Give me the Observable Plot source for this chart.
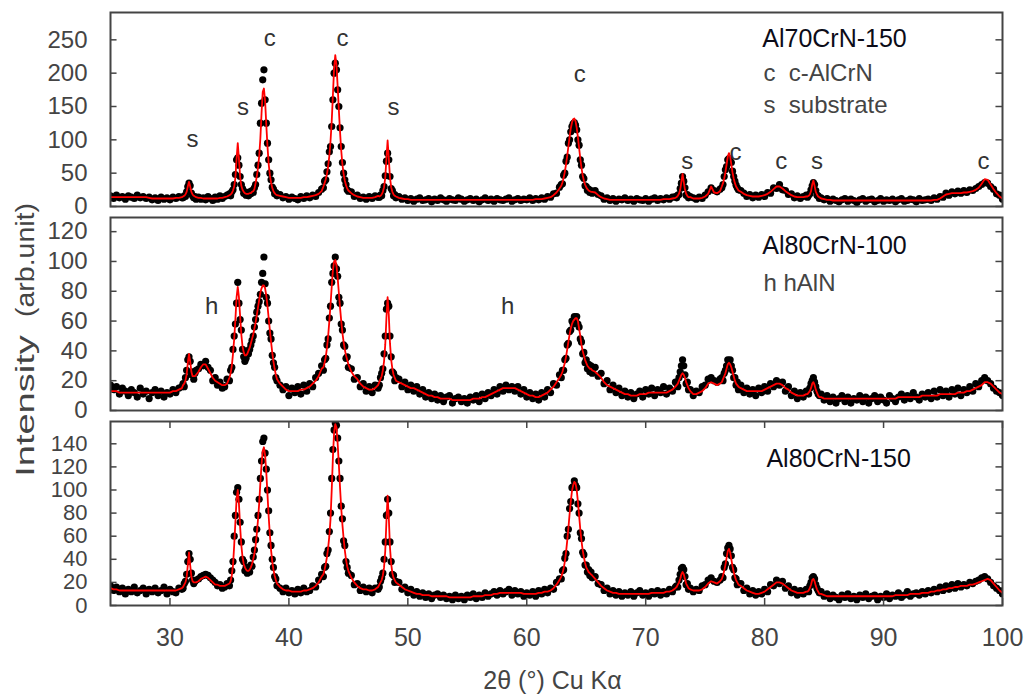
<!DOCTYPE html>
<html><head><meta charset="utf-8">
<script src="https://cdn.jsdelivr.net/npm/d3@7"></script>
<script src="https://cdn.jsdelivr.net/npm/@observablehq/plot@0.6"></script>
<style>
html,body{margin:0;padding:0;background:#fff;}
#wrap{position:relative;width:1024px;height:695px;overflow:hidden;font-family:"Liberation Sans",Arial,sans-serif;}
.panel{position:absolute;left:0;width:1024px;}
.ylab{position:absolute;left:25px;white-space:nowrap;font-size:25px;line-height:25px;color:#444;}
</style></head><body><div id="wrap">
<div class="ylab" style="top:406px;transform:translate(-50%,-50%) rotate(-90deg) scaleX(1.52);">Intensity</div>
<div class="ylab" style="top:260px;transform:translate(-50%,-50%) rotate(-90deg) scaleX(1.14);">(arb.unit)</div>
</div>
<script>
// 2θ positions (degrees) of the sampled points, shared by the three patterns
const twoTheta = [
25,25.25,25.5,25.75,26,26.25,26.5,26.75,27,27.25,27.5,27.75,28,28.25,28.5,28.75,29,29.25,29.5,29.75,30,30.25,30.5,30.75,31,
31.1,31.2,31.3,31.4,31.5,31.6,31.7,31.8,31.9,32,32.1,32.2,
32.4,32.6,32.8,33,33.2,33.4,33.6,33.8,34,34.2,34.4,34.6,34.8,
35,35.1,35.2,35.3,35.4,35.5,35.6,35.7,35.8,35.9,36,36.1,36.2,36.3,36.4,36.5,36.6,36.7,36.8,36.9,37,37.1,37.2,37.3,37.4,37.5,37.6,37.7,37.8,37.9,38,38.1,38.2,38.3,38.4,38.5,38.6,38.7,38.8,38.9,39,
39.25,39.5,39.75,40,40.25,40.5,40.75,41,41.25,41.5,41.75,42,42.25,42.5,42.75,
42.9,43,43.1,43.2,43.3,43.4,43.5,43.6,43.7,43.8,43.9,44,44.1,44.2,44.3,44.4,44.5,44.6,44.7,44.8,44.9,45,
45.25,45.5,45.75,46,46.25,46.5,46.75,47,47.25,47.5,
47.6,47.7,47.8,47.9,48,48.1,48.2,48.3,48.4,48.5,48.6,48.7,48.8,48.9,49,
49.25,49.5,49.75,50,50.25,50.5,50.75,51,51.25,51.5,51.75,52,52.25,52.5,52.75,53,53.25,53.5,53.75,54,54.25,54.5,54.75,55,55.25,55.5,55.75,56,56.25,56.5,56.75,57,57.25,57.5,57.75,58,58.25,58.5,58.75,59,59.25,59.5,59.75,60,60.25,60.5,60.75,61,61.25,61.5,61.75,62,62.25,62.5,62.75,
62.9,63,63.1,63.2,63.3,63.4,63.5,63.6,63.7,63.8,63.9,64,64.1,64.2,64.3,64.4,64.5,64.6,64.7,64.8,64.9,65,65.1,65.2,65.3,65.4,65.5,
65.75,66,66.25,66.5,66.75,67,67.25,67.5,67.75,68,68.25,68.5,68.75,69,69.25,69.5,69.75,70,70.25,70.5,70.75,71,71.25,71.5,71.75,72,72.25,72.5,
72.6,72.7,72.8,72.9,73,73.1,73.2,73.3,73.4,73.5,73.6,
73.75,74,74.25,74.5,74.75,75,75.25,75.5,75.75,76,76.25,
76.4,76.5,76.6,76.7,76.8,76.9,77,77.1,77.2,77.3,77.4,77.5,77.6,77.7,77.8,
78,78.25,78.5,78.75,79,79.25,79.5,79.75,80,80.25,80.5,80.75,81,81.25,81.5,81.75,82,82.25,82.5,82.75,83,83.25,83.5,
83.6,83.7,83.8,83.9,84,84.1,84.2,84.3,84.4,84.5,84.6,
84.75,85,85.25,85.5,85.75,86,86.25,86.5,86.75,87,87.25,87.5,87.75,88,88.25,88.5,88.75,89,89.25,89.5,89.75,90,90.25,90.5,90.75,91,91.25,91.5,91.75,92,92.25,92.5,92.75,93,93.25,93.5,93.75,94,94.25,94.5,94.75,95,95.25,95.5,95.75,96,96.25,96.5,96.75,97,97.25,97.5,97.75,98,98.25,98.5,98.75,99,99.25,99.5,99.75,100
];

// Al70CrN-150 : fitted profile (red) and measured intensity (black dots)
const fit70_150 = [
14,14,14,14,14,14,14,14,14,14,14,14,14,13,12,12,12,12,12,12,12,12,13,13,14,
15,16,18,22,30,37,30,22,18,16,15,14,
13,13,12,12,12,12,12,12,12,13,13,14,15,
17,18,20,24,30,43,71,95,71,44,31,25,22,20,19,19,19,20,20,22,23,26,35,45,58,75,102,140,172,177,158,122,90,64,47,36,28,23,20,18,17,
16,15,14,13,13,13,13,13,14,14,15,16,17,19,23,
30,35,41,49,60,76,98,128,167,207,227,212,180,145,112,84,63,49,39,32,27,24,
20,17,15,14,13,13,13,13,14,16,
15,16,18,22,29,43,72,99,72,43,29,22,18,16,15,
13,12,11,11,10,10,10,10,10,10,10,10,10,10,10,10,10,10,10,10,10,10,10,10,10,10,10,10,10,10,10,10,10,10,10,10,10,10,10,10,10,10,10,10,10,10,11,11,11,12,13,14,17,21,27,
31,36,43,52,63,76,90,104,117,126,131,132,128,118,104,88,72,58,47,39,33,29,26,24,23,22,22,
21,17,14,12,11,10,10,10,10,10,10,10,10,10,10,10,10,10,10,10,10,10,10,11,11,11,12,13,
14,16,19,25,37,49,37,25,19,16,14,
14,12,12,12,13,15,19,30,21,20,23,
30,35,42,51,63,75,80,75,63,51,42,35,30,27,24,
22,19,17,16,15,15,15,16,17,19,22,26,30,30,27,23,20,17,15,14,14,14,15,
15,16,18,23,33,39,31,22,18,15,14,
12,11,10,10,9,9,9,9,9,9,9,9,9,9,9,9,9,9,9,9,9,9,9,9,9,9,9,9,9,9,9,9,9,9,9,9,9,9,10,10,12,15,18,19,20,20,20,20,21,21,22,23,25,28,34,41,40,33,26,20,15,12
];
const obs70_150 = [
16,12,17,13,15,11,16,14,12,17,13,15,12,14,10,13,9,14,11,13,10,14,12,15,13,
13,16,15,22,30,35,31,20,16,13,15,11,
14,11,13,10,15,12,9,14,11,16,12,15,17,
19,16,22,25,33,48,70,73,62,45,33,27,20,22,17,21,16,22,19,24,21,28,33,48,62,80,125,155,190,205,160,125,95,70,50,40,29,26,19,21,16,
18,13,15,11,14,12,10,15,12,16,13,17,15,21,26,
28,38,40,52,64,82,90,120,160,200,215,205,175,150,118,90,66,50,40,33,25,23,
22,15,17,12,14,11,15,12,16,14,
14,17,16,24,30,46,68,80,70,45,27,24,16,18,13,
15,11,13,9,12,8,11,13,9,10,12,7,11,9,13,10,8,12,10,9,13,11,8,10,12,9,11,7,10,13,9,11,8,12,10,9,11,13,8,10,12,9,11,10,13,9,12,10,13,11,15,14,19,20,29,
33,34,47,50,68,74,95,100,112,120,124,126,122,115,100,92,70,62,45,42,31,30,24,26,21,24,20,
24,18,16,11,13,9,12,8,11,10,13,9,11,8,12,10,9,12,8,11,13,9,12,10,13,11,14,15,
13,17,18,27,35,45,38,28,17,18,13,
15,13,11,14,12,17,22,28,24,22,26,
28,33,45,55,60,70,72,68,66,53,45,38,32,28,25,
24,20,15,18,13,17,14,18,15,21,20,28,27,33,25,24,18,19,13,16,12,15,17,
14,17,19,25,31,36,33,24,17,16,12,
13,10,12,8,11,9,7,10,12,8,11,9,6,10,12,8,10,11,7,9,12,8,10,9,11,7,10,12,8,9,11,10,7,12,9,10,11,9,13,11,15,14,20,17,22,19,23,20,24,21,25,24,27,30,33,36,35,30,26,19,17,11
];

// Al80CrN-100
const fit80_100 = [
13,13,13,12,12,12,12,12,12,12,12,12,12,12,12,12,12,12,12,12,12,13,13,14,15,
17,18,20,24,32,38,33,26,23,23,23,24,
26,29,31,31,28,25,22,20,19,18,17,17,18,
22,25,30,38,48,61,76,83,76,63,51,43,39,37,37,38,40,42,45,48,51,55,59,64,69,74,79,82,84,84,82,77,70,62,54,46,39,33,28,24,21,
18,16,14,13,13,13,13,14,14,15,16,18,20,23,28,
29,32,36,42,50,60,71,83,94,100,101,97,89,79,69,60,52,46,41,37,34,31,
26,23,21,18,16,15,14,14,15,17,
19,21,23,27,33,44,62,76,64,45,34,28,24,22,20,
19,18,17,16,15,15,14,13,12,11,10,10,9,9,8,8,8,8,7,7,7,7,7,7,7,8,8,8,9,9,10,11,12,13,14,15,15,15,15,15,14,13,12,11,10,10,9,9,10,11,12,14,16,19,22,
24,26,29,32,36,41,46,51,55,58,60,61,62,62,60,55,50,44,40,37,34,32,30,29,28,28,27,
26,24,22,19,17,16,15,14,13,12,11,11,10,10,10,11,11,11,12,12,12,12,12,12,12,13,14,16,
17,18,20,22,24,25,24,22,19,17,15,
13,11,11,12,13,15,18,19,18,17,18,
19,21,23,25,28,31,32,31,29,26,23,20,18,17,16,
15,14,13,13,13,13,13,13,14,15,16,17,18,18,17,15,14,12,11,10,10,10,11,
11,12,13,15,18,19,17,14,12,10,9,
9,8,8,8,8,8,8,8,8,8,8,8,8,8,8,8,8,8,8,8,8,8,8,8,8,8,9,9,9,9,9,9,9,9,10,10,10,10,10,10,11,11,11,11,11,11,12,12,12,13,13,14,15,16,17,19,19,18,16,14,12,11
];
const obs80_100 = [
17,14,16,11,15,13,10,14,12,9,15,11,13,8,12,14,10,13,9,12,11,14,12,15,16,
18,16,22,27,34,36,33,24,26,21,25,27,
28,31,30,33,29,27,20,22,17,19,15,16,21,
20,27,29,41,50,58,72,86,72,61,54,41,36,33,35,40,38,41,44,47,50,56,61,66,70,73,78,86,92,103,85,76,72,60,52,48,37,32,29,22,20,
17,14,16,10,15,12,16,11,17,13,18,16,22,25,30,
27,34,35,44,48,62,70,86,92,97,103,95,90,76,72,58,54,44,43,35,36,29,
28,21,22,16,18,13,16,12,17,15,
17,22,25,28,38,50,68,72,70,50,36,26,25,20,22,
21,16,19,14,17,13,16,11,14,9,12,8,11,7,10,6,9,10,5,8,9,6,8,5,9,7,10,6,11,8,12,10,14,11,16,13,17,14,16,13,16,11,14,9,12,8,11,7,12,9,14,12,18,17,24,
22,27,27,34,35,44,45,53,54,60,58,63,60,63,58,56,48,46,38,39,32,34,28,31,26,30,25,
29,23,25,18,20,14,17,12,15,10,13,9,12,8,11,13,9,14,11,15,10,14,12,16,11,15,13,19,
19,16,22,26,30,34,30,24,18,19,14,
14,10,13,12,16,17,21,22,20,19,21,
22,20,25,27,30,34,33,34,30,27,22,22,17,19,14,
17,12,15,11,14,10,15,12,16,13,18,16,20,17,19,13,16,10,13,8,12,9,13,
13,11,15,18,20,22,19,16,13,11,10,
11,7,10,6,9,5,8,10,6,9,5,8,7,10,6,9,5,8,10,6,9,7,5,10,8,6,9,11,7,10,8,12,9,7,11,9,12,8,13,9,14,10,13,9,14,11,15,10,14,12,16,13,18,16,20,22,20,18,15,13,12,10
];

// Al80CrN-150
const fit80_150 = [
15,14,14,13,13,13,13,13,13,13,13,13,13,13,13,13,13,13,13,13,13,13,13,14,15,
16,18,20,24,35,46,35,25,21,20,20,20,
21,23,24,25,24,22,20,18,18,17,17,17,18,
19,21,26,35,52,72,92,100,88,68,52,42,36,33,31,30,30,31,33,36,40,45,52,62,74,88,106,122,134,137,130,115,96,77,61,48,38,31,26,22,19,
16,14,13,13,12,12,12,12,13,13,14,15,17,20,25,
27,31,36,42,50,60,75,100,128,150,157,154,140,122,102,84,70,58,48,40,34,30,
24,20,17,15,14,14,13,13,14,16,
18,20,22,26,33,47,73,95,76,50,36,28,24,22,20,
18,16,14,13,12,11,10,10,9,9,9,8,8,8,8,8,8,7,7,7,7,7,7,7,7,8,8,8,8,9,9,9,10,10,11,11,11,11,11,11,11,11,10,10,10,10,10,11,11,12,12,13,15,18,22,
25,28,32,38,46,56,67,79,90,99,104,107,106,100,90,78,66,56,48,42,37,33,31,29,28,27,26,
23,20,17,15,13,12,11,11,10,10,10,10,10,10,10,10,10,10,10,11,11,11,11,11,12,12,13,15,
16,18,20,23,27,29,27,23,19,17,15,
14,13,13,13,14,16,19,21,20,19,21,
23,26,30,35,41,47,49,46,40,34,29,25,22,20,18,
17,15,13,12,11,10,10,11,12,14,16,18,20,20,19,17,15,13,12,11,11,11,12,
12,13,15,18,22,23,21,17,14,12,10,
10,9,8,8,8,8,8,8,8,8,8,8,8,8,8,8,8,8,8,8,8,8,8,8,8,9,9,9,9,9,10,10,10,10,11,11,11,12,12,13,13,14,14,15,15,16,16,17,17,17,18,18,19,20,21,22,23,22,19,16,13,11
];
const obs80_150 = [
17,13,16,12,15,10,14,12,16,11,13,15,10,14,12,15,11,13,16,10,14,12,11,15,14,
15,19,21,27,38,45,40,28,22,19,21,22,
23,25,26,27,26,24,22,20,17,18,15,16,19,
17,22,30,38,60,78,98,102,92,72,55,40,38,30,33,28,31,29,35,34,42,48,57,66,78,92,110,125,142,145,132,118,100,82,63,52,40,33,25,23,17,
15,12,15,11,13,10,14,11,15,12,13,17,16,22,27,
25,33,34,45,48,64,80,110,135,152,158,156,145,125,110,86,75,56,52,38,33,28,
26,18,19,13,16,12,15,11,15,14,
16,21,24,28,40,55,78,92,80,55,38,27,26,20,21,
20,14,16,11,14,9,12,8,11,7,10,6,9,10,7,9,6,8,5,9,6,8,5,9,7,10,6,9,7,11,8,10,12,9,13,10,12,14,9,13,10,12,8,11,9,12,8,13,10,14,11,15,14,20,23,
23,30,31,41,45,60,66,84,90,102,103,108,104,102,88,80,63,58,46,44,35,35,29,31,26,29,24,
25,19,18,13,15,10,13,9,12,8,11,9,12,8,11,13,9,11,8,12,10,13,9,12,10,14,12,16,
17,16,22,27,32,33,31,25,18,19,14,
15,12,14,13,17,18,22,24,21,20,22,
25,24,33,36,45,50,52,49,43,33,31,24,23,18,19,
19,13,15,10,13,9,12,10,14,12,18,17,22,19,21,15,17,11,14,9,13,10,14,
13,12,17,20,24,25,23,18,15,13,11,
12,8,10,6,9,7,5,9,7,10,6,8,5,9,7,10,6,8,9,5,8,7,10,6,9,8,11,7,9,12,8,10,11,9,12,10,13,11,14,12,16,13,17,14,18,15,19,16,18,17,20,19,21,22,24,25,23,20,17,15,13,10
];

// axis ticks
const xTicks = [30,40,50,60,70,80,90,100];
const yTicks70_150 = [0,50,100,150,200,250];
const yTicks80_100 = [0,20,40,60,80,100,120];
const yTicks80_150 = [0,20,40,60,80,100,120,140];

// peak labels (text, 2θ, intensity of label baseline)
const peak70Text = ["s","s","c","c","s","c","s","c","c","s","c"];
const peak70X = [31.9,36.15,38.4,44.5,48.8,64.45,73.5,77.55,81.4,84.4,98.4];
const peak70Y = [89,138,241,241,138,187,57,70,57,57,57];
const peak100Text = ["h","h"];
const peak100X = [33.5,58.4];
const peak100Y = [65,65];
const peak150Text = [];
const peak150X = [];
const peak150Y = [];

// sample names and phase keys (text, 2θ of left edge, intensity of baseline)
const note70Text = ["Al70CrN-150","c\u00a0\u00a0c-AlCrN","s\u00a0\u00a0substrate"];
const note70X = [79.8,79.9,79.9];
const note70Y = [240,189,141];
const note100Text = ["Al80CrN-100","h hAlN"];
const note100X = [79.8,79.9];
const note100Y = [105.2,80];
const note150Text = ["Al80CrN-150"];
const note150X = [80.15];
const note150Y = [119.7];

const xLabel = "2θ (°) Cu Kα";

const wrap = document.getElementById("wrap");

function panel(cfg) {
  const n = Math.min(twoTheta.length, cfg.fit.length, cfg.obs.length);
  const rows = d3.range(n).map(i => ({x: twoTheta[i], fit: cfg.fit[i], obs: cfg.obs[i]}));
  const idxP = d3.range(cfg.peakText.length);
  const idxN = d3.range(cfg.noteText.length);
  const marks = [
    Plot.dot(rows, {x: "x", y: "obs", r: 3.6, fill: "#000", clip: true}),
    Plot.line(rows, {x: "x", y: "fit", stroke: "#ff0000", strokeWidth: 1.8, clip: true}),
    Plot.ruleY(cfg.yTicks, {y: d => d, x1: 25, x2: 25.55, stroke: "#444", strokeWidth: 1.5}),
    Plot.ruleY(cfg.yTicks, {y: d => d, x1: 99.45, x2: 100, stroke: "#444", strokeWidth: 1.5}),
    Plot.frame({stroke: "#444", strokeWidth: 2}),
    Plot.text(idxP, {x: i => cfg.peakX[i], y: i => cfg.peakY[i], text: i => cfg.peakText[i], fontSize: 24, fill: "#333", textAnchor: "middle", lineAnchor: "bottom"}),
    Plot.text(idxN.slice(0, 1), {x: i => cfg.noteX[i], y: i => cfg.noteY[i], text: i => cfg.noteText[i], fontSize: 25, fill: "#0c0c18", textAnchor: "start", lineAnchor: "bottom"}),
    Plot.text(idxN.slice(1), {x: i => cfg.noteX[i], y: i => cfg.noteY[i], text: i => cfg.noteText[i], fontSize: 24, fill: "#444", textAnchor: "start", lineAnchor: "bottom"})
  ];
  if (cfg.showX) {
    const k = cfg.yMax * 0.038;
    marks.push(
      Plot.ruleX(xTicks, {x: d => d, y1: 0, y2: k, stroke: "#444", strokeWidth: 1.5}),
      Plot.ruleX(xTicks, {x: d => d, y1: cfg.yMax - k, y2: cfg.yMax, stroke: "#444", strokeWidth: 1.5}),
      Plot.text(xTicks, {x: d => d, text: d => String(d), frameAnchor: "bottom", lineAnchor: "top", dy: 23, fontSize: 25, fill: "#444"}),
      Plot.text([xLabel], {frameAnchor: "bottom", dx: -4, dy: 83, lineAnchor: "bottom", fontSize: 25, fill: "#444"})
    );
  }
  const chart = Plot.plot({
    width: 1024,
    height: cfg.height,
    marginLeft: 110,
    marginRight: 22,
    marginTop: cfg.mt,
    marginBottom: cfg.mb,
    style: {fontFamily: "'Liberation Sans', Arial, sans-serif", fontSize: cfg.fs + "px", color: "#444", background: "transparent", overflow: "visible"},
    x: {domain: [25, 100], axis: null},
    y: {domain: [0, cfg.yMax], ticks: cfg.yTicks, tickSize: 0, tickPadding: 23, tickFormat: d => String(d), label: null},
    marks
  });
  const div = document.createElement("div");
  div.className = "panel";
  div.style.top = cfg.top + "px";
  div.appendChild(chart);
  wrap.appendChild(div);
}

panel({fit: fit70_150, obs: obs70_150, yMax: 291, yTicks: yTicks70_150, fs: 24, top: 0, height: 210, mt: 12, mb: 4,
  peakText: peak70Text, peakX: peak70X, peakY: peak70Y, noteText: note70Text, noteX: note70X, noteY: note70Y, showX: false});
panel({fit: fit80_100, obs: obs80_100, yMax: 129.5, yTicks: yTicks80_100, fs: 24, top: 210, height: 205, mt: 7, mb: 5,
  peakText: peak100Text, peakX: peak100X, peakY: peak100Y, noteText: note100Text, noteX: note100X, noteY: note100Y, showX: false});
panel({fit: fit80_150, obs: obs80_150, yMax: 159.3, yTicks: yTicks80_150, fs: 22, top: 415, height: 280, mt: 6, mb: 90,
  peakText: peak150Text, peakX: peak150X, peakY: peak150Y, noteText: note150Text, noteX: note150X, noteY: note150Y, showX: true});
</script>
</body></html>
